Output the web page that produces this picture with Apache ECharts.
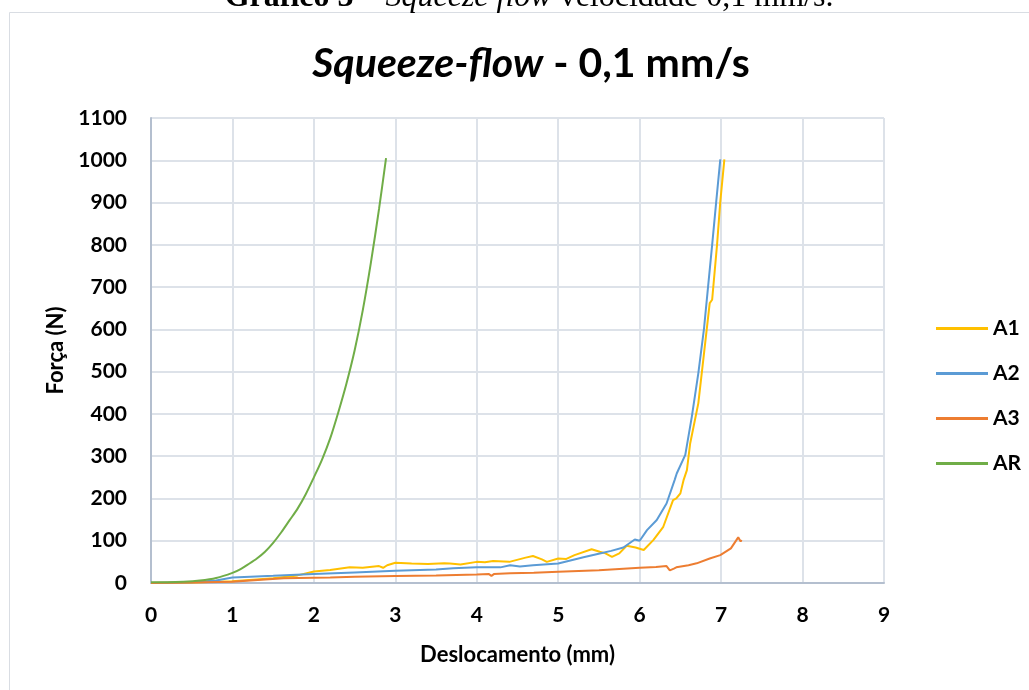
<!DOCTYPE html>
<html>
<head>
<meta charset="utf-8">
<script src="https://cdn.jsdelivr.net/npm/echarts@6/dist/echarts.min.js"></script>
<style>html,body{margin:0;padding:0;background:#fff;}#c{width:1029px;height:690px;}</style>
</head>
<body>
<div id="c"></div>
<script>
// ---- data ----
const seriesNames = ['A1', 'A2', 'A3', 'AR'];
const xTicks = [0, 1, 2, 3, 4, 5, 6, 7, 8, 9];
const yTicks = [0, 100, 200, 300, 400, 500, 600, 700, 800, 900, 1000, 1100];

const a1X = [0,0.5,1.0,1.5,1.8,2.0,2.2,2.44,2.6,2.8,2.85,2.9,3.0,3.2,3.4,3.6,3.67,3.8,4.0,4.1,4.2,4.4,4.6,4.69,4.8,4.86,5.0,5.1,5.2,5.41,5.51,5.58,5.66,5.75,5.84,5.95,6.05,6.17,6.29,6.41,6.45,6.5,6.54,6.58,6.62,6.64,6.72,6.79,6.86,6.89,6.95,6.99,7.04];
const a1Y = [0,1,4,11,18,27,31,37,36,40,36,42,48,46,45,47,46,44,50,49,52,50,60,64,56,50,58,57,66,80,74,70,62,70,88,84,78,102,133,196,200,212,244,267,330,331,425,543,662,670,800,902,1002];

const a2X = [0,0.5,0.8,1.0,1.22,1.5,2.0,2.5,3.0,3.5,3.71,4.0,4.29,4.41,4.53,4.69,5.0,5.31,5.51,5.65,5.8,5.94,6.0,6.09,6.21,6.33,6.43,6.455,6.56,6.64,6.72,6.79,6.84,6.89,6.94,6.99];
const a2Y = [0,2,6,13,15,17,21,25,29,32,35,37,37,42,39,42,46,61,70,76,84,103,100,125,149,188,244,259,303,393,496,602,701,800,902,1002];

const a3X = [0,0.5,0.99,1.22,1.63,1.99,2.2,2.5,3.0,3.5,4.0,4.15,4.18,4.21,4.41,4.7,5.0,5.5,6.0,6.2,6.33,6.37,6.39,6.42,6.45,6.6,6.7,6.86,6.99,7.12,7.21,7.24,7.25];
const a3Y = [0,1,3,6,11,12.6,13,15,16.6,18,20,21,17,21,23,24,26.8,30,36,38,40,30,27,34,37,42,46.5,58,66,82,108,98,102];

const arX = [0,0.2,0.4,0.6,0.8,1.0,1.1,1.2,1.3,1.4,1.5,1.6,1.7,1.8,1.9,2.0,2.1,2.2,2.3,2.4,2.5,2.6,2.7,2.8,2.886];
const arY = [2,2,3,6,12,24,33,45,58,74,95,120,148,176,210,250,292,342,404,472,550,645,758,885,1005];

const colors = ['#FFC000', '#5B9BD5', '#ED7D31', '#70AD47'];
const xs = [a1X, a2X, a3X, arX];
const ys = [a1Y, a2Y, a3Y, arY];

const FONT = 'Lato';
const chart = echarts.init(document.getElementById('c'), null, {renderer: 'canvas'});

const series = seriesNames.map((n, i) => ({
  name: n,
  type: 'line',
  data: xs[i].map((x, k) => [x, ys[i][k]]),
  showSymbol: false,
  symbol: 'none',
  lineStyle: {color: colors[i], width: 2},
  itemStyle: {color: colors[i]},
  smooth: n === 'AR' ? 0.3 : false,
  z: 2 + i
}));

chart.setOption({
  animation: false,
  backgroundColor: '#fff',
  title: {
    text: '{i|Squeeze-flow}{n| - 0,1 mm/s}',
    left: 526,
    textAlign: 'center',
    top: 38,
    textStyle: {
      rich: {
        i: {fontFamily: FONT, fontWeight: 'bold', fontStyle: 'italic', fontSize: 41, color: '#000'},
        n: {fontFamily: FONT, fontWeight: 'bold', fontSize: 41, color: '#000'}
      }
    }
  },
  graphic: [
    {type: 'rect', shape: {x: 9.5, y: 12.5, width: 1200, height: 800}, style: {fill: 'none', stroke: '#d9dde3', lineWidth: 1}, z: 0},
    {type: 'text', x: 529, y: 14, style: {
      text: '{b|Gráfico 3 – }{i|Squeeze flow}{r| velocidade 0,1 mm/s.}',
      align: 'center', verticalAlign: 'bottom',
      rich: {
        b: {fontFamily: 'Liberation Serif', fontWeight: 'bold', fontSize: 32, fill: '#000'},
        i: {fontFamily: 'Liberation Serif', fontStyle: 'italic', fontSize: 32, fill: '#000'},
        r: {fontFamily: 'Liberation Serif', fontSize: 32, fill: '#000'}
      }
    }}
  ],
  legend: {
    orient: 'vertical',
    left: 931,
    top: 313,
    itemWidth: 52,
    itemHeight: 3,
    itemGap: 24,
    icon: 'rect',
    data: seriesNames,
    textStyle: {fontFamily: FONT, fontWeight: 'bold', fontSize: 21, color: '#000', lineHeight: 20}
  },
  grid: {left: 151, right: 145, top: 118, bottom: 107, containLabel: false},
  xAxis: {
    type: 'value', min: xTicks[0], max: xTicks[xTicks.length - 1], interval: 1,
    name: 'Deslocamento (mm)', nameLocation: 'middle', nameGap: 61,
    nameTextStyle: {fontFamily: FONT, fontWeight: 'bold', fontSize: 22, color: '#000'},
    axisLine: {show: true, lineStyle: {color: '#b4bfcf', width: 2}},
    axisTick: {show: false},
    axisLabel: {fontFamily: FONT, fontWeight: 'bold', fontSize: 21, color: '#000', margin: 22},
    splitLine: {show: true, lineStyle: {color: '#dde2e9', width: 2}}
  },
  yAxis: {
    type: 'value', min: yTicks[0], max: yTicks[yTicks.length - 1], interval: 100,
    name: 'Força (N)', nameLocation: 'middle', nameGap: 80, nameRotate: 90,
    nameTextStyle: {fontFamily: FONT, fontWeight: 'bold', fontSize: 22, color: '#000'},
    axisLine: {show: true, lineStyle: {color: '#b4bfcf', width: 2}},
    axisTick: {show: false},
    axisLabel: {fontFamily: FONT, fontWeight: 'bold', fontSize: 21, color: '#000', margin: 24,
      formatter: v => String(v)},
    splitLine: {show: true, lineStyle: {color: '#dde2e9', width: 2}}
  },
  series: series
});
</script>
</body>
</html>
